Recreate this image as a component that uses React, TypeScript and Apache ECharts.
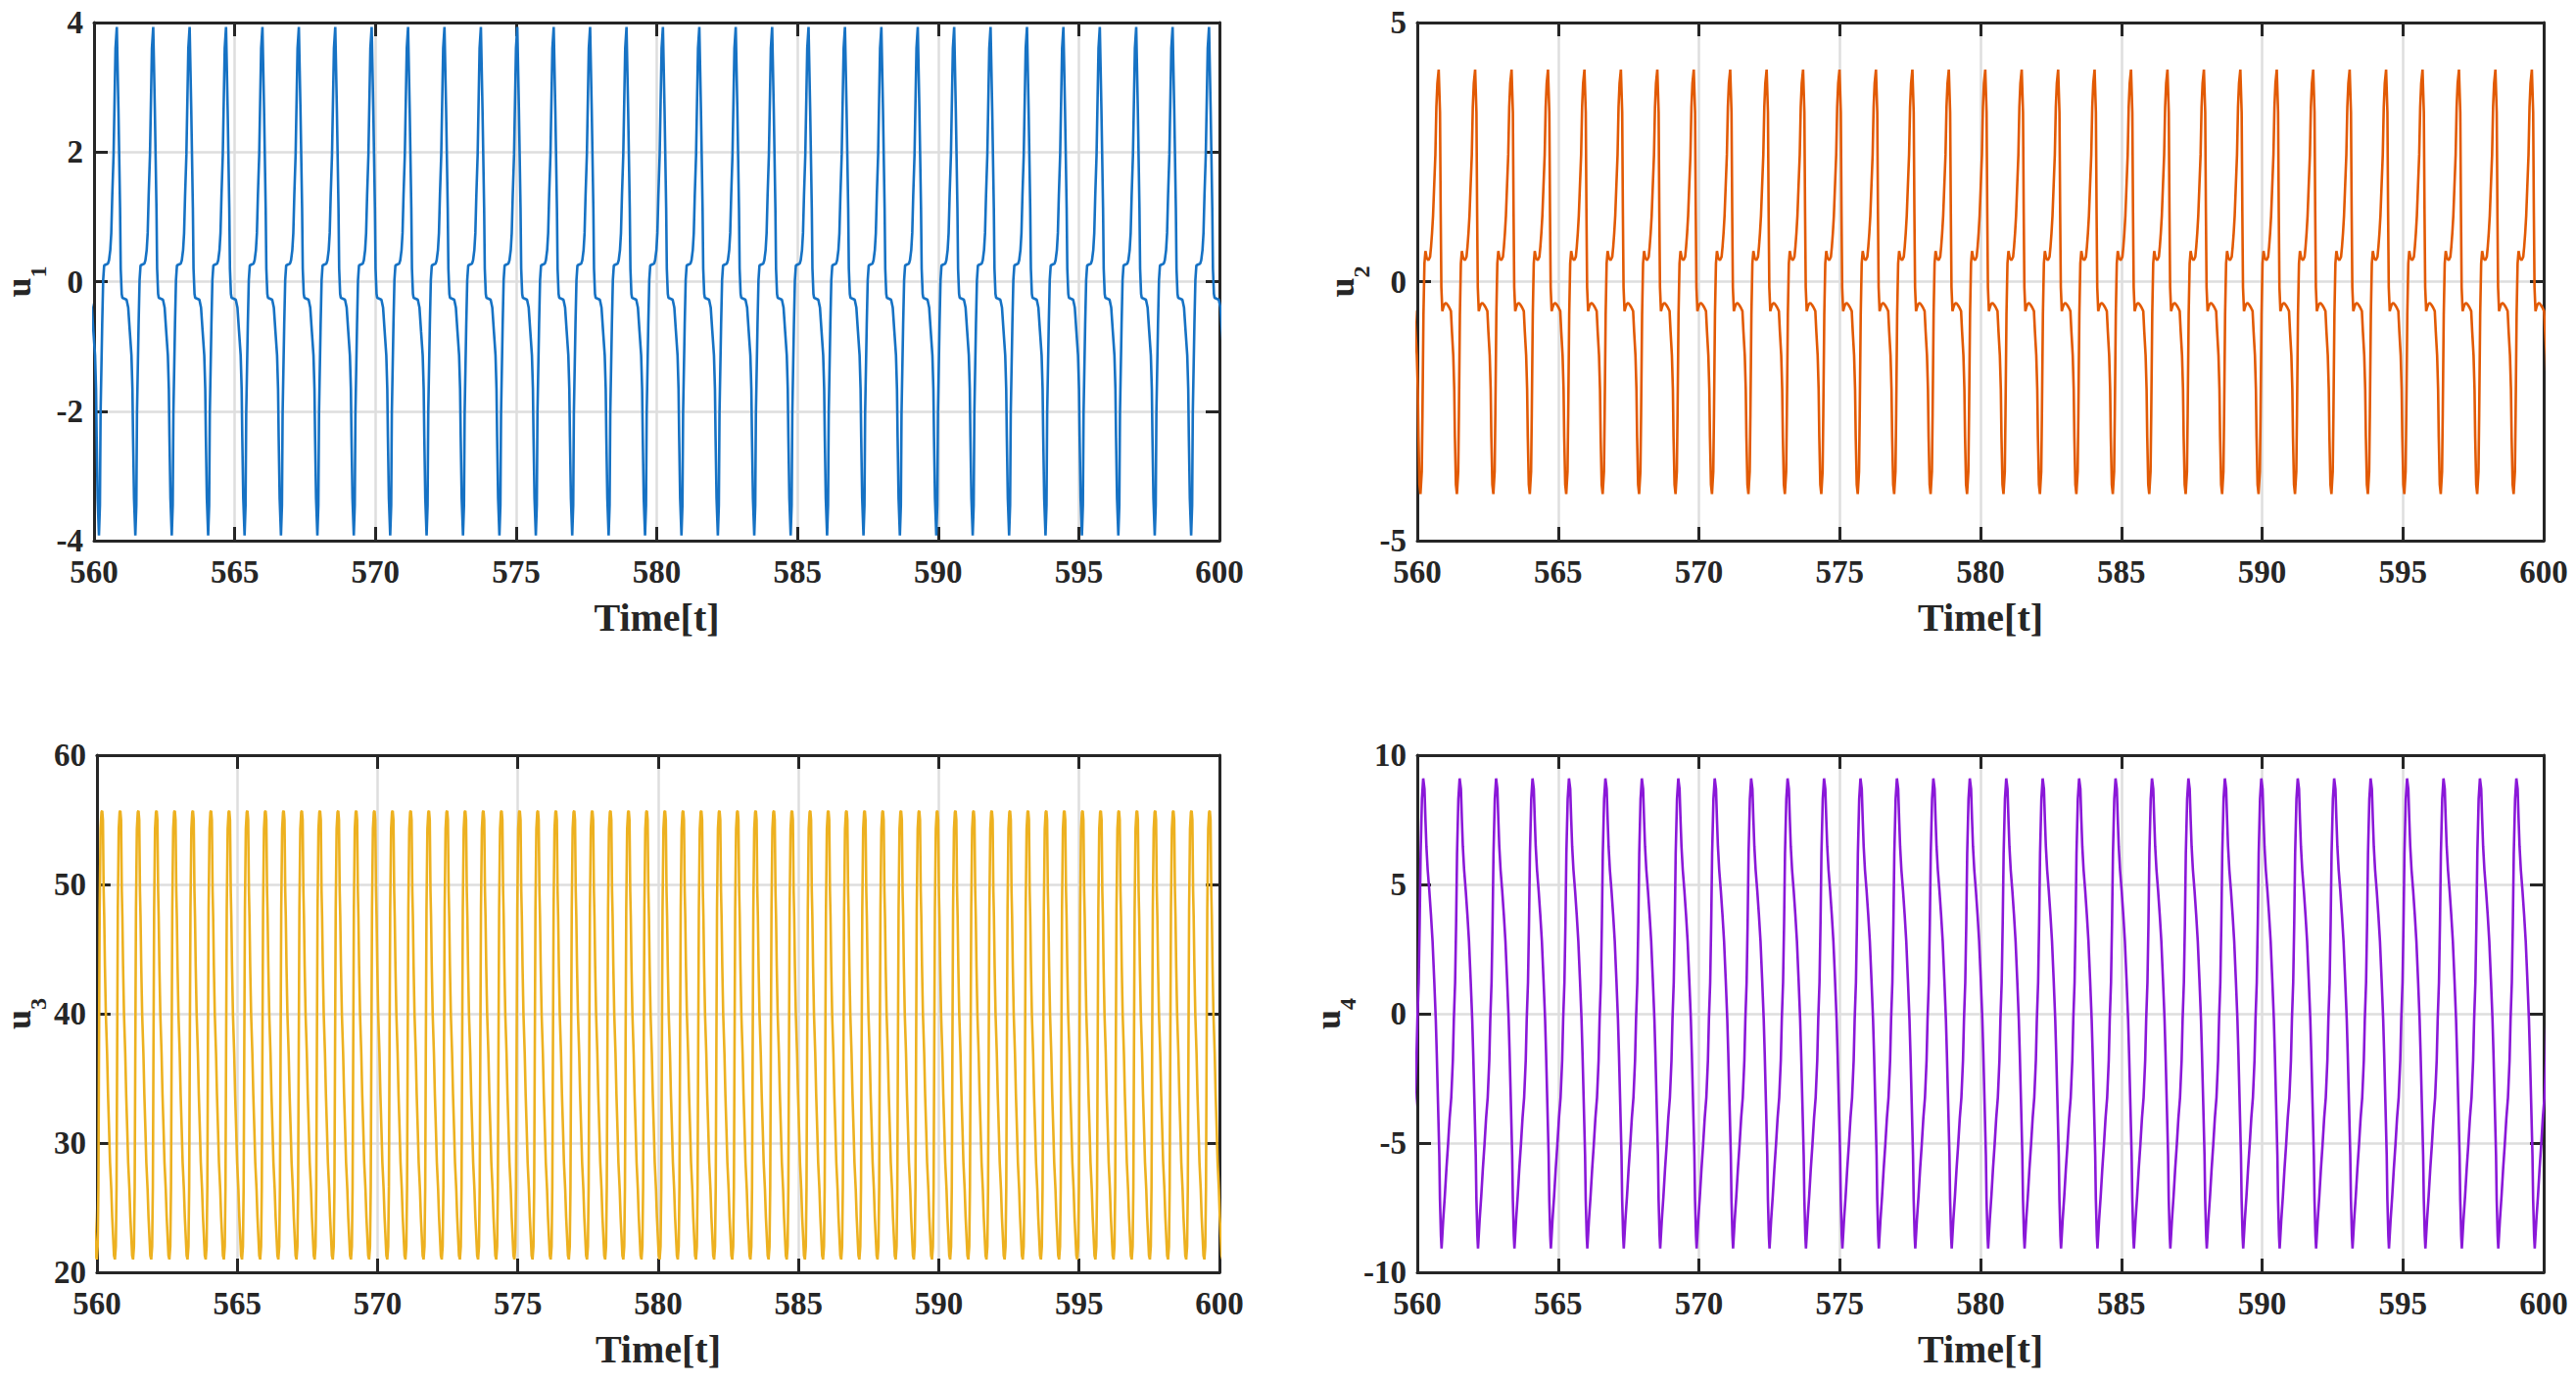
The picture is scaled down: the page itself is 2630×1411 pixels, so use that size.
import { useEffect, useRef } from "react";
import * as echarts from "echarts";

// time window and ticks
const T_MIN = 560;
const T_MAX = 600;
const T_STEP = 5;

// one oscillation period, u3 runs at twice the rate
const PERIOD = 1.294;

// one cycle of each signal, phase 0 = peak
const u1Phase = [0, 0.045, 0.089, 0.107, 0.134, 0.152, 0.268, 0.313, 0.357, 0.402, 0.429, 0.446, 0.473, 0.509, 0.536, 0.554, 0.598, 0.625, 0.652, 0.759, 0.786, 0.821, 0.848, 0.875, 0.911, 0.938, 0.964];
const u1Value = [3.93, 2.64, 1.14, 0.2, -0.19, -0.25, -0.28, -0.4, -0.77, -1.14, -1.66, -2.4, -3.35, -3.92, -3.45, -2.03, -0.67, 0.02, 0.25, 0.28, 0.33, 0.49, 0.75, 1.33, 1.96, 2.8, 3.6];
const u1Peak0 = 560.81;

const u2Phase = [0, 0.036, 0.055, 0.073, 0.1, 0.127, 0.155, 0.2, 0.245, 0.29, 0.336, 0.364, 0.4, 0.427, 0.445, 0.473, 0.5, 0.536, 0.555, 0.582, 0.609, 0.636, 0.673, 0.718, 0.764, 0.791, 0.818, 0.845, 0.873, 0.909, 0.936, 0.964];
const u2Value = [4.09, 3.27, 1.33, -0.11, -0.57, -0.5, -0.44, -0.41, -0.45, -0.5, -0.57, -0.97, -1.42, -2.08, -3.0, -3.92, -4.1, -3.66, -2.54, -0.64, 0.35, 0.59, 0.45, 0.41, 0.48, 0.68, 0.94, 1.27, 1.79, 2.45, 3.37, 3.83];
const u2Peak0 = 560.76;

const u3Phase = [0, 0.04, 0.08, 0.11, 0.15, 0.2, 0.27, 0.32, 0.38, 0.43, 0.5, 0.55, 0.6, 0.65, 0.7, 0.75, 0.79, 0.82, 0.86, 0.91, 0.96];
const u3Value = [55.7, 55.0, 49.5, 47.6, 43.7, 40.0, 36.9, 33.8, 31.0, 28.5, 26.4, 24.3, 22.8, 21.3, 21.0, 22.0, 26.6, 36.0, 48.0, 54.3, 55.6];
const u3Peak0 = 560.19;

const u4Phase = [0, 0.035, 0.062, 0.088, 0.124, 0.168, 0.212, 0.257, 0.301, 0.345, 0.372, 0.407, 0.442, 0.46, 0.487, 0.504, 0.549, 0.593, 0.637, 0.681, 0.726, 0.77, 0.814, 0.841, 0.876, 0.903, 0.929, 0.965];
const u4Value = [9.1, 8.7, 7.5, 6.47, 5.55, 4.76, 3.85, 2.8, 1.35, -0.22, -1.54, -3.5, -5.47, -7.18, -8.6, -9.08, -7.97, -7.05, -6.0, -5.08, -4.03, -3.24, -1.8, -0.22, 1.22, 3.45, 6.2, 8.3];
const u4Peak0 = 560.21;

const FONT = "'Liberation Serif', 'Times New Roman', serif";
const INK = "#262626";
const GRID = "#dedede";

// repeat the measured cycle over the visible window (the grid clips the ends)
function tile(phase: number[], value: number[], period: number, t0: number): number[][] {
  const out: number[][] = [];
  const kStart = Math.floor((T_MIN - t0) / period) - 1;
  const kEnd = Math.ceil((T_MAX - t0) / period) + 1;
  for (let k = kStart; k <= kEnd; k++) {
    for (let i = 0; i < phase.length; i++) {
      const t = t0 + (k + phase[i]) * period;
      if (t < T_MIN - period || t > T_MAX + period) continue;
      out.push([t, value[i]]);
    }
  }
  return out;
}

const panels = [
  { sub: "1", color: "#1672c4", min: -4, max: 4, step: 2, data: tile(u1Phase, u1Value, PERIOD, u1Peak0) },
  { sub: "2", color: "#e25a04", min: -5, max: 5, step: 5, data: tile(u2Phase, u2Value, PERIOD, u2Peak0) },
  { sub: "3", color: "#edb120", min: 20, max: 60, step: 10, data: tile(u3Phase, u3Value, PERIOD / 2, u3Peak0) },
  { sub: "4", color: "#8a18d8", min: -10, max: 10, step: 5, data: tile(u4Phase, u4Value, PERIOD, u4Peak0) },
];

export default function App() {
  const ref = useRef<HTMLDivElement>(null);

  useEffect(() => {
    if (!ref.current) return;
    const chart = echarts.init(ref.current, undefined, { renderer: "svg" });

    const grids = [
      { left: 95, top: 23, width: 1150, height: 529 },
      { left: 1447, top: 23, width: 1150, height: 529 },
      { left: 95, top: 771, width: 1150, height: 528 },
      { left: 1447, top: 771, width: 1150, height: 528 },
    ];

    const line = { show: true, onZero: false, lineStyle: { color: INK, width: 3 } };
    const tick = { show: true, inside: true, length: 14, lineStyle: { color: INK, width: 3 } };
    const textBase = { color: INK, fontFamily: FONT, fontWeight: "bold" };

    const xAxis: any[] = [];
    const yAxis: any[] = [];
    const series: any[] = [];

    panels.forEach((p, i) => {
      xAxis.push({
        type: "value", gridIndex: i, min: T_MIN, max: T_MAX, interval: T_STEP,
        axisLine: line, axisTick: tick,
        axisLabel: { ...textBase, fontSize: 33, margin: 15 },
        splitLine: { show: true, lineStyle: { color: GRID, width: 2.5 } },
        name: "Time[t]", nameLocation: "middle", nameGap: 58,
        nameTextStyle: { ...textBase, fontSize: 40 },
      });
      xAxis.push({
        type: "value", gridIndex: i, position: "top", min: T_MIN, max: T_MAX, interval: T_STEP,
        axisLine: line, axisTick: tick, axisLabel: { show: false }, splitLine: { show: false },
      });
      yAxis.push({
        type: "value", gridIndex: i, min: p.min, max: p.max, interval: p.step,
        axisLine: line, axisTick: tick,
        axisLabel: { ...textBase, fontSize: 33, margin: 11 },
        splitLine: { show: true, lineStyle: { color: GRID, width: 2.5 } },
        name: `{u|u}{s|${p.sub}}`, nameLocation: "middle", nameRotate: 90, nameGap: 45,
        nameTextStyle: {
          rich: {
            u: { ...textBase, fontSize: 36, padding: [0, 0, 14, 0] },
            s: { ...textBase, fontSize: 24, padding: [26, 0, 0, 0] },
          },
        },
      });
      yAxis.push({
        type: "value", gridIndex: i, position: "right", min: p.min, max: p.max, interval: p.step,
        axisLine: line, axisTick: tick, axisLabel: { show: false }, splitLine: { show: false },
      });
      series.push({
        type: "line", xAxisIndex: i * 2, yAxisIndex: i * 2,
        data: p.data, showSymbol: false, clip: true,
        lineStyle: { color: p.color, width: 2.6 },
      });
    });

    chart.setOption({
      animation: false,
      backgroundColor: "#ffffff",
      textStyle: { fontFamily: FONT },
      grid: grids,
      xAxis,
      yAxis,
      series,
    });

    return () => { chart.dispose(); };
  }, []);

  return <div ref={ref} style={{ position: "fixed", left: 0, top: 0, width: 2630, height: 1411 }} />;
}
